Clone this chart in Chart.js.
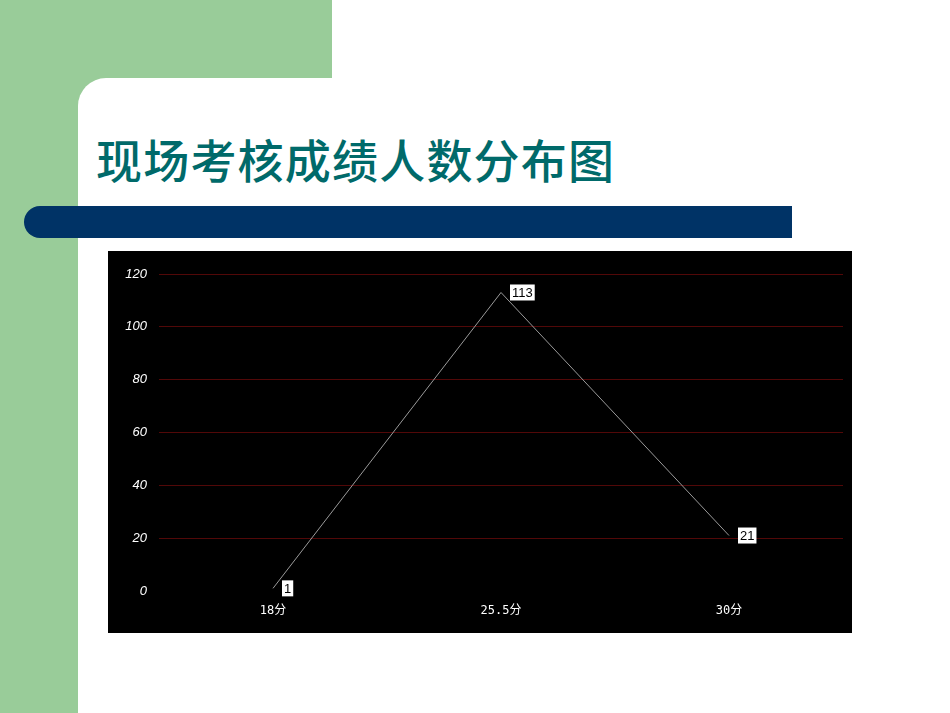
<!DOCTYPE html>
<html>
<head>
<meta charset="utf-8">
<script src="https://cdn.jsdelivr.net/npm/chart.js@4/dist/chart.umd.min.js"></script>
<style>
    html, body { margin: 0; padding: 0; }
    body { width: 950px; height: 713px; position: relative; overflow: hidden; background: #ffffff; }
    .green { position: absolute; background: #99cc99; }
    #sheet { position: absolute; left: 78px; top: 78px; width: 872px; height: 635px; background: #ffffff; border-top-left-radius: 28px; }
    #title { position: absolute; left: 96px; top: 128px; margin: 0; font-family: "Noto Sans CJK SC", sans-serif; font-weight: 500; font-size: 46px; line-height: 60px; color: #006a6a; letter-spacing: 1.2px; }
    #bar { position: absolute; left: 24px; top: 206px; width: 768px; height: 32px; background: #003366; border-radius: 16px 0 0 16px; }
    #chartBox { position: absolute; left: 108px; top: 251px; width: 744px; height: 382px; background: #000000; }
    #chartBox canvas { display: block; }
</style>
</head>
<body>
<div class="green" style="left:0;top:0;width:332px;height:110px;"></div>
<div class="green" style="left:0;top:0;width:78px;height:713px;"></div>
<div id="sheet"></div>
<h1 id="title">现场考核成绩人数分布图</h1>
<div id="bar"></div>
<div id="chartBox"><canvas id="scoreChart" width="744" height="382"></canvas></div>

<script>
    // chart data
    const scoreLabels = ['18分', '25.5分', '30分'];
    const headCounts = [1, 113, 21];
    const yTicks = [0, 20, 40, 60, 80, 100, 120];

    // white boxed value labels next to each point
    const valueLabels = {
        id: 'valueLabels',
        afterDatasetsDraw(chart) {
            const ctx = chart.ctx;
            const meta = chart.getDatasetMeta(0);
            ctx.save();
            ctx.font = '13px Arial, "Liberation Sans", sans-serif';
            ctx.textBaseline = 'middle';
            meta.data.forEach(function (pt, i) {
                const text = String(headCounts[i]);
                const w = ctx.measureText(text).width + 4;
                const h = 16;
                const left = pt.x + 9;
                const top = pt.y - h / 2;
                ctx.fillStyle = '#ffffff';
                ctx.fillRect(left, top, w, h);
                ctx.fillStyle = '#000000';
                ctx.fillText(text, left + 2, pt.y + 1);
            });
            ctx.restore();
        }
    };

    new Chart(document.getElementById('scoreChart'), {
        type: 'line',
        data: {
            labels: scoreLabels,
            datasets: [{
                data: headCounts,
                borderColor: '#9a9a9a',
                borderWidth: 1,
                pointRadius: 0,
                tension: 0,
                fill: false
            }]
        },
        options: {
            responsive: false,
            animation: false,
            layout: { padding: { top: 23, right: 9, left: 0, bottom: 0 } },
            plugins: {
                legend: { display: false },
                tooltip: { enabled: false }
            },
            scales: {
                x: {
                    offset: true,
                    grid: { display: false, drawTicks: false },
                    border: { display: false },
                    ticks: {
                        color: '#ffffff',
                        padding: 13,
                        font: { family: '"DejaVu Sans Mono", "Noto Sans CJK SC", monospace', size: 12 }
                    },
                    afterFit: function (scale) { scale.height = 42; }
                },
                y: {
                    min: 0,
                    max: 120,
                    afterBuildTicks: function (scale) {
                        scale.ticks = yTicks.map(v => ({ value: v }));
                    },
                    grid: {
                        drawTicks: false,
                        color: ctx => ctx.tick && ctx.tick.value === 0 ? 'rgba(0,0,0,0)' : '#520808'
                    },
                    border: { display: false },
                    ticks: {
                        color: '#ffffff',
                        padding: 12,
                        font: { family: 'Arial, "Liberation Sans", sans-serif', size: 13, style: 'italic' }
                    },
                    afterFit: function (scale) { scale.width = 51; }
                }
            }
        },
        plugins: [valueLabels]
    });
</script>
</body>
</html>
